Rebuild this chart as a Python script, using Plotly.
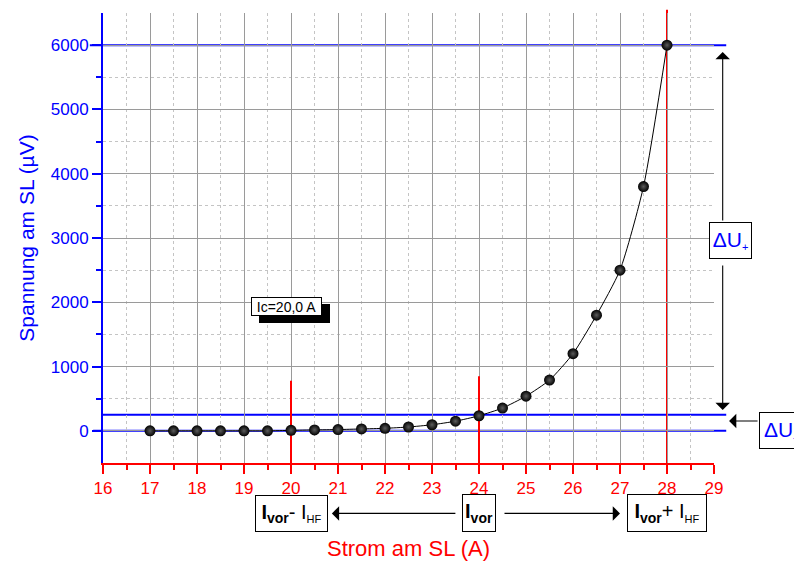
import plotly.graph_objects as go

# Measured voltage across the superconducting line vs. applied current
current_A = [17, 17.5, 18, 18.5, 19, 19.5, 20, 20.5, 21, 21.5, 22, 22.5,
             23, 23.5, 24, 24.5, 25, 25.5, 26, 26.5, 27, 27.5, 28]
voltage_uV = [0, 0, 0, 0, 0, 0, 8, 15, 20, 30, 40, 60,
              95, 150, 235, 355, 540, 790, 1200, 1800, 2500, 3800, 6000]

x_tick_labels = list(range(16, 30))
y_tick_labels = [0, 1000, 2000, 3000, 4000, 5000, 6000]

# Operating point and RF amplitude
I_VOR = 24
I_HF = 4
U_MAX = 6000          # voltage at I_vor + I_HF
U_VOR = 250           # voltage at I_vor
U_ZERO = 0
MARK_TOPS = {I_VOR - I_HF: 780, I_VOR: 850}

X_MIN, X_MAX = 16, 29
Y_MIN, Y_MAX = -500, 6500
PLOT_W = 611  # plot area width in px

BLUE = "#0000ff"
RED = "#ff0000"
GRID = "#9a9a9a"
GRID_MINOR = "#c4c4c4"
FONT = "Liberation Sans, Arial, sans-serif"


def xp(v):
    """data x -> paper fraction"""
    return (v - X_MIN) / (X_MAX - X_MIN)


fig = go.Figure()

fig.add_trace(go.Scatter(
    x=current_A, y=voltage_uV, mode="lines+markers",
    line=dict(color="black", width=1, shape="spline", smoothing=0.6),
    marker=dict(size=11, color="black",
                gradient=dict(type="radial", color="#5c5c5c"),
                line=dict(width=0)),
    showlegend=False, hoverinfo="x+y",
))

shapes = []
# horizontal reference levels (blue)
for lvl, x_from in [(U_MAX, 15.72), (U_ZERO, 15.79), (U_VOR, 16.0)]:
    shapes.append(dict(type="line", xref="paper", yref="y",
                       x0=xp(x_from), x1=xp(29.26), y0=lvl, y1=lvl,
                       line=dict(color=BLUE, width=2), layer="between"))
# vertical current markers (red)
for xv, top in MARK_TOPS.items():
    shapes.append(dict(type="line", xref="x", yref="y",
                       x0=xv, x1=xv, y0=Y_MIN, y1=top,
                       line=dict(color=RED, width=2), layer="between"))
shapes.append(dict(type="line", xref="x", yref="paper",
                   x0=I_VOR + I_HF, x1=I_VOR + I_HF, y0=0, y1=1.007,
                   line=dict(color=RED, width=2), layer="between"))

annotations = []

# "Ic" label with drop shadow
ic_text = "Ic=20,0 A"
for shadow in (True, False):
    annotations.append(dict(
        x=19.9, y=1935, xref="x", yref="y", text=ic_text, showarrow=False,
        xanchor="center", yanchor="middle",
        font=dict(family=FONT, size=14, color="black"),
        bgcolor="black" if shadow else "white", bordercolor="black",
        borderwidth=1, borderpad=0, width=69, height=17,
        xshift=8 if shadow else 0, yshift=-7 if shadow else 0))

sub_small = "<sub><span style='font-size:11px'>{}</span></sub>"
box_style = dict(showarrow=False, bgcolor="white", bordercolor="black",
                 borderwidth=1, borderpad=0, xref="paper", yref="paper",
                 xanchor="center", yanchor="middle")
row_y = -0.112
annotations += [
    dict(x=xp(I_VOR - I_HF), y=row_y, width=71, height=35,
         text="<b>I</b><sub><b>vor</b></sub>- I" + sub_small.format("HF"),
         font=dict(family=FONT, size=20, color="black"), **box_style),
    dict(x=xp(I_VOR), y=row_y, width=32, height=36,
         text="<b>I</b><sub><b>vor</b></sub>",
         font=dict(family=FONT, size=20, color="black"), **box_style),
    dict(x=xp(I_VOR + I_HF), y=row_y, width=78, height=36,
         text="<b>I</b><sub><b>vor</b></sub>+ I" + sub_small.format("HF"),
         font=dict(family=FONT, size=20, color="black"), **box_style),
]

du_style = dict(showarrow=False, bgcolor="white", bordercolor="black",
                borderwidth=1, borderpad=0, xref="paper", yref="y",
                xanchor="center", yanchor="middle",
                width=41, height=35,
                font=dict(family=FONT, size=21, color=BLUE))
annotations += [
    dict(x=xp(29.35), y=2962, text="\u0394U" + sub_small.format("+"), **du_style),
    dict(x=xp(29.35) + 50 / PLOT_W, y=U_ZERO + 10, text="\u0394U" + sub_small.format("-"),
         **du_style),
]

arrow_style = dict(text="", showarrow=True, arrowhead=1, arrowsize=2.2,
                   arrowwidth=1.1, arrowcolor="black", standoff=0,
                   startstandoff=0)
annotations += [
    # delta U+ (up and down)
    dict(x=xp(29.185), y=5894, xref="paper", yref="y", ax=0, ay=170, **arrow_style),
    dict(x=xp(29.185), y=325, xref="paper", yref="y", ax=0, ay=-146, **arrow_style),
    # delta U-
    dict(x=xp(29.32), y=154, xref="paper", yref="y", ax=30, ay=0, **arrow_style),
    # current sweep arrows
    dict(x=xp(20.87), y=row_y, xref="paper", yref="paper", ax=125, ay=0, **arrow_style),
    dict(x=xp(27.0), y=row_y, xref="paper", yref="paper", ax=-117, ay=0, **arrow_style),
]

fig.update_layout(
    width=794, height=565,
    margin=dict(l=103, r=80, t=13, b=102),
    paper_bgcolor="white", plot_bgcolor="white",
    font=dict(family=FONT),
    shapes=shapes, annotations=annotations,
    xaxis=dict(
        range=[X_MIN, X_MAX], tickmode="array", tickvals=x_tick_labels,
        ticks="outside", ticklen=9, tickwidth=2, tickcolor=RED,
        showline=True, linecolor=RED, linewidth=2,
        showgrid=True, gridcolor=GRID, gridwidth=1, zeroline=False,
        automargin=False,
        tickfont=dict(family=FONT, size=17, color=RED),
        minor=dict(tickmode="array",
                   tickvals=[v + 0.5 for v in x_tick_labels[:-1]],
                   ticks="outside", ticklen=5, tickwidth=2, tickcolor=RED,
                   showgrid=True, griddash="dot", gridcolor=GRID_MINOR, gridwidth=1),
        title=dict(text="Strom am SL (A)", font=dict(family=FONT, size=22, color=RED),
                   standoff=43),
    ),
    yaxis=dict(
        range=[Y_MIN, Y_MAX], tickmode="array", tickvals=y_tick_labels,
        ticks="outside", ticklen=9, tickwidth=2, tickcolor=BLUE,
        showline=True, linecolor=BLUE, linewidth=2,
        showgrid=True, gridcolor=GRID, gridwidth=1, zeroline=False,
        automargin=False,
        tickfont=dict(family=FONT, size=17, color=BLUE),
        minor=dict(tickmode="array",
                   tickvals=[v + 500 for v in y_tick_labels[:-1]],
                   ticks="outside", ticklen=5, tickwidth=2, tickcolor=BLUE,
                   showgrid=True, griddash="dot", gridcolor=GRID_MINOR, gridwidth=1),
        title=dict(text="Spannung am SL (\u00b5V)",
                   font=dict(family=FONT, size=21, color=BLUE), standoff=10),
    ),
)

fig.write_html("out.html")
